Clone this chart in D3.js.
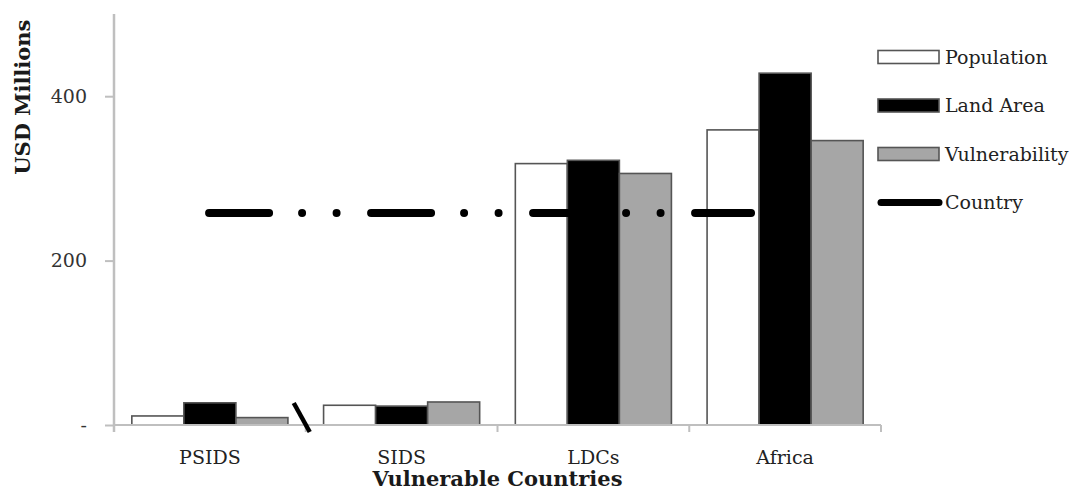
<!DOCTYPE html>
<html>
<head>
<meta charset="utf-8">
<script src="https://cdn.jsdelivr.net/npm/d3@7"></script>
<style>
  body { margin: 0; background: #fff; }
  text { font-family: "DejaVu Serif", serif; }
</style>
</head>
<body>
<div class="chart"></div>
<script>
var svgWidth = 1084;
var svgHeight = 491;

// data
var categories = ["PSIDS", "SIDS", "LDCs", "Africa"];
var seriesNames = ["Population", "Land Area", "Vulnerability"];
var population = [11, 24, 318, 359];
var landArea = [27, 23, 322, 428];
var vulnerability = [9, 28, 306, 346];
var countryValue = 258;
// country line runs across category positions (in category units)
var countrySpan = [0.475, 3.343];
var yTicks = [0, 200, 400];

var margin = { top: 14, right: 203, bottom: 66, left: 114 };
var width = svgWidth - margin.left - margin.right;
var height = svgHeight - margin.top - margin.bottom;

var fills = ["#ffffff", "#000000", "#a6a6a6"];

var svg = d3.select(".chart")
  .append("svg")
  .attr("width", svgWidth)
  .attr("height", svgHeight);

var chartGroup = svg.append("g")
  .attr("transform", `translate(${margin.left}, ${margin.top})`);

var x0 = d3.scaleBand()
  .domain(categories)
  .range([0, width])
  .paddingInner(0.186)
  .paddingOuter(0.093);

var x1 = d3.scaleBand()
  .domain(seriesNames)
  .range([0, x0.bandwidth()]);

var xc = d3.scaleLinear().domain([0, categories.length]).range([0, width]);

var y = d3.scaleLinear().domain([0, 500]).range([height, 0]);

var rows = categories.map(function(c, i) {
  return { cat: c, values: [population[i], landArea[i], vulnerability[i]] };
});

// bars
var groups = chartGroup.selectAll(".grp")
  .data(rows)
  .enter()
  .append("g")
  .attr("transform", d => `translate(${x0(d.cat)}, 0)`);

groups.selectAll("rect")
  .data(d => d.values.map((v, i) => ({ name: seriesNames[i], v: v, i: i })))
  .enter()
  .append("rect")
  .attr("x", d => x1(d.name))
  .attr("width", x1.bandwidth())
  .attr("y", d => y(d.v))
  .attr("height", d => height - y(d.v))
  .attr("fill", d => fills[d.i])
  .attr("stroke", "#555")
  .attr("stroke-width", 1.6);

// y axis
var leftAxis = d3.axisLeft(y)
  .tickValues(yTicks)
  .tickSize(9)
  .tickPadding(18)
  .tickFormat(d => d === 0 ? "-" : d);

var yAxis = chartGroup.append("g").call(leftAxis);
yAxis.select(".domain").remove();
yAxis.selectAll("line").attr("stroke", "#bfbfbf").attr("stroke-width", 2);
yAxis.selectAll("text")
  .attr("fill", "#333")
  .style("font-size", "19px")
  .style("font-family", "DejaVu Serif");

chartGroup.append("line")
  .attr("x1", 0).attr("x2", 0)
  .attr("y1", 0).attr("y2", height + 7)
  .attr("stroke", "#bfbfbf")
  .attr("stroke-width", 2.5);

// x axis
chartGroup.append("line")
  .attr("x1", 0).attr("x2", width)
  .attr("y1", height).attr("y2", height)
  .attr("stroke", "#bfbfbf")
  .attr("stroke-width", 2);

var bounds = d3.range(1, categories.length + 1).map(i => xc(i));
chartGroup.selectAll(".xtick")
  .data(bounds)
  .enter()
  .append("line")
  .attr("x1", d => d).attr("x2", d => d)
  .attr("y1", height).attr("y2", height + 7)
  .attr("stroke", "#bfbfbf")
  .attr("stroke-width", 2);

chartGroup.selectAll(".xlab")
  .data(categories)
  .enter()
  .append("text")
  .attr("x", d => x0(d) + x0.bandwidth() / 2)
  .attr("y", height + 39)
  .attr("text-anchor", "middle")
  .attr("fill", "#222")
  .style("font-size", "19px")
  .text(d => d);

// axis break mark
var bx = xc(1);
chartGroup.append("line")
  .attr("x1", bx - 12).attr("y1", height - 22)
  .attr("x2", bx + 4).attr("y2", height + 7)
  .attr("stroke", "#000")
  .attr("stroke-width", 4.5);

// country line
chartGroup.append("line")
  .attr("x1", xc(countrySpan[0]) + 4)
  .attr("x2", xc(countrySpan[1]) - 4)
  .attr("y1", y(countryValue))
  .attr("y2", y(countryValue))
  .attr("stroke", "#000")
  .attr("stroke-width", 8)
  .attr("stroke-linecap", "round")
  .attr("stroke-dasharray", "60,33,0,34.5,0,34.5");

// axis titles
chartGroup.append("text")
  .attr("transform", "rotate(-90)")
  .attr("x", -(y(400) + 1))
  .attr("y", -84)
  .attr("text-anchor", "middle")
  .attr("fill", "#1a1a1a")
  .style("font-size", "21px")
  .style("font-weight", "bold")
  .text("USD Millions");

chartGroup.append("text")
  .attr("x", xc(2))
  .attr("y", height + 61)
  .attr("text-anchor", "middle")
  .attr("fill", "#1a1a1a")
  .style("font-size", "21px")
  .style("font-weight", "bold")
  .text("Vulnerable Countries");

// legend
var legendItems = seriesNames.concat(["Country"]);
var legend = svg.append("g")
  .attr("transform", "translate(878, 57)");

var item = legend.selectAll(".item")
  .data(legendItems)
  .enter()
  .append("g")
  .attr("transform", (d, i) => `translate(0, ${i * 48.5})`);

item.filter((d, i) => i < 3)
  .append("rect")
  .attr("x", 0).attr("y", -6.5)
  .attr("width", 61).attr("height", 13)
  .attr("fill", (d, i) => fills[i])
  .attr("stroke", "#555")
  .attr("stroke-width", 1.6);

item.filter((d, i) => i === 3)
  .append("line")
  .attr("x1", 3).attr("x2", 61)
  .attr("y1", 0).attr("y2", 0)
  .attr("stroke", "#000")
  .attr("stroke-width", 7)
  .attr("stroke-linecap", "round");

item.append("text")
  .attr("x", 67)
  .attr("y", 0)
  .attr("dy", "0.35em")
  .attr("fill", "#222")
  .style("font-size", "19px")
  .text(d => d);
</script>
</body>
</html>
